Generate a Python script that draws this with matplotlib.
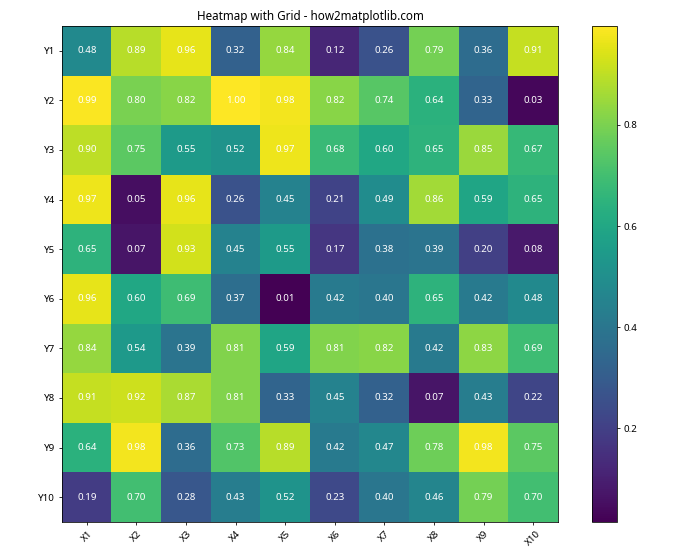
import matplotlib.pyplot as plt
import numpy as np

plt.rcParams['font.family'] = ['Noto Sans', 'DejaVu Sans']

x_labels = ["X1", "X2", "X3", "X4", "X5", "X6", "X7", "X8", "X9", "X10"]
y_labels = ["Y1", "Y2", "Y3", "Y4", "Y5", "Y6", "Y7", "Y8", "Y9", "Y10"]

values = [
    [0.48, 0.89, 0.96, 0.32, 0.84, 0.12, 0.26, 0.79, 0.36, 0.91],
    [0.99, 0.80, 0.82, 1.00, 0.98, 0.82, 0.74, 0.64, 0.33, 0.03],
    [0.90, 0.75, 0.55, 0.52, 0.97, 0.68, 0.60, 0.65, 0.85, 0.67],
    [0.97, 0.05, 0.96, 0.26, 0.45, 0.21, 0.49, 0.86, 0.59, 0.65],
    [0.65, 0.07, 0.93, 0.45, 0.55, 0.17, 0.38, 0.39, 0.20, 0.08],
    [0.96, 0.60, 0.69, 0.37, 0.01, 0.42, 0.40, 0.65, 0.42, 0.48],
    [0.84, 0.54, 0.39, 0.81, 0.59, 0.81, 0.82, 0.42, 0.83, 0.69],
    [0.91, 0.92, 0.87, 0.81, 0.33, 0.45, 0.32, 0.07, 0.43, 0.22],
    [0.64, 0.98, 0.36, 0.73, 0.89, 0.42, 0.47, 0.78, 0.98, 0.75],
    [0.19, 0.70, 0.28, 0.43, 0.52, 0.23, 0.40, 0.46, 0.79, 0.70],
]

data = np.array(values)

fig = plt.figure(figsize=(10, 8), dpi=70)
# positions in pixels of the 700x560 output: heatmap 62..558 x 26..522
ax = fig.add_axes([62 / 700, 38 / 560, 496 / 700, 496 / 560])
cax = fig.add_axes([592 / 700, 38 / 560, 25 / 700, 496 / 560])

im = ax.imshow(data, cmap="viridis", vmin=0.014, vmax=0.996)

ax.set_xticks(np.arange(len(x_labels)))
ax.set_yticks(np.arange(len(y_labels)))
ax.set_xticklabels(x_labels, rotation=45)
ax.set_yticklabels(y_labels)

# annotate every cell
for i in range(len(y_labels)):
    for j in range(len(x_labels)):
        ax.text(j, i, f"{data[i, j]:.2f}", ha="center", va="center", color="w")

ax.set_title("Heatmap with Grid - how2matplotlib.com")
fig.colorbar(im, cax=cax)
plt.savefig("out.png")
